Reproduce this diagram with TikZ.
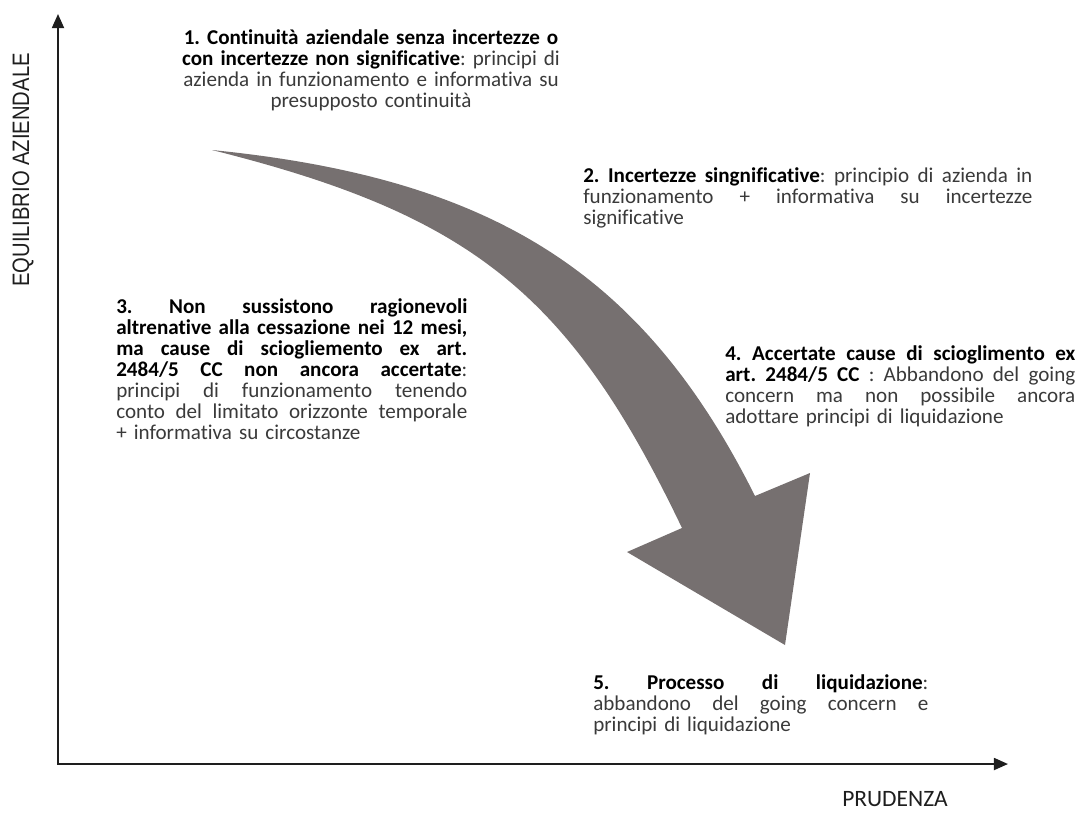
\documentclass[tikz,border=0pt]{standalone}
\usepackage{fontspec}
\setmainfont{Carlito}[Ligatures=NoCommon]
\newfontfamily\narrowfont[FakeStretch=0.85]{Liberation Sans}
\usetikzlibrary{arrows.meta}

\definecolor{arrowgray}{RGB}{118,112,112}
\definecolor{textgray}{RGB}{58,58,58}
\definecolor{axisgray}{RGB}{30,30,30}

% one justified line, and a bold heading
\newcommand{\jl}[1]{\leavevmode{\spaceskip=0.22em plus 1fil minus 0.04em\relax\hbox to\hsize{#1}}}
\newcommand{\hd}[1]{\textbf{\color{black}#1}}

\begin{document}
\frenchspacing
\begin{tikzpicture}[x=0.025cm,y=-0.025cm,
    block/.style={anchor=north west,inner sep=0pt,align=left,text=textgray,
      font=\fontsize{15}{15}\selectfont},
    axislabel/.style={inner sep=0pt,text=axisgray}]
  \useasboundingbox (0,0) rectangle (1078,812);

  % Axes
  \coordinate (origin) at (58,764);
  \coordinate (ytip) at (58,14);
  \coordinate (xtip) at (1008,764);
  \draw[axisgray,line width=1.4pt,{Triangle[length=10pt,width=8.5pt]}-{Triangle[length=10pt,width=8.5pt]}]
    (ytip) -- (origin) -- (xtip);
  \node[axislabel,rotate=90,font=\narrowfont\fontsize{16.9}{18}\selectfont] (equilibrio) at (23,170) {EQUILIBRIO AZIENDALE};
  \node[axislabel,font=\fontsize{16.7}{18}\selectfont] (prudenza) at (895,799) {PRUDENZA};

  % Curved arrow
  \fill[arrowgray] (212,150) .. controls (492,178) and (643,272) .. (755,496)
    -- (810,473) -- (785,645) -- (627,552) -- (682,528)
    .. controls (570,294) and (472,215) .. (212,150) -- cycle;

  % Phases
  \node[block,anchor=north,align=center,text width=10cm] (continuita) at (371,29)
    {\hd{1. Continuità aziendale senza incertezze o}\\
     \hd{con incertezze non significative}: principi di\\
     azienda in funzionamento e informativa su\\
     presupposto continuità};
  \node[block,text width=11.225cm] (incertezze) at (583,167)
    {\jl{\hd{2. Incertezze singnificative}: principio di azienda in}\\
     \jl{funzionamento + informativa su incertezze}\\
     significative};
  \node[block,text width=8.775cm] (cessazione) at (116,298)
    {\jl{\hd{3. Non sussistono ragionevoli}}\\
     \jl{\hd{altrenative alla cessazione nei 12 mesi,}}\\
     \jl{\hd{ma cause di sciogliemento ex art.}}\\
     \jl{\hd{2484/5 CC non ancora accertate}:}\\
     \jl{principi di funzionamento tenendo}\\
     \jl{conto del limitato orizzonte temporale}\\
     + informativa su circostanze};
  \node[block,text width=8.75cm] (scioglimento) at (725,345)
    {\jl{\hd{4. Accertate cause di scioglimento ex}}\\
     \jl{\hd{art. 2484/5 CC} : Abbandono del going}\\
     \jl{concern ma non possibile ancora}\\
     adottare principi di liquidazione};
  \node[block,text width=8.375cm] (liquidazione) at (593,674)
    {\jl{\hd{5. Processo di liquidazione}:}\\
     \jl{abbandono del going concern e}\\
     principi di liquidazione};
\end{tikzpicture}
\end{document}
